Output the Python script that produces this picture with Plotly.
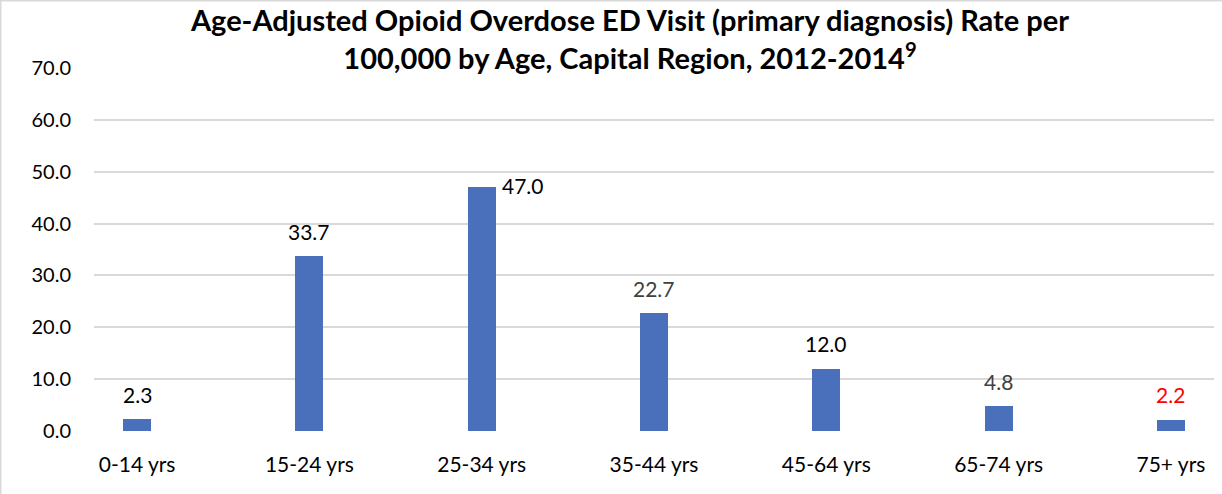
import plotly.graph_objects as go

categories = ["0-14 yrs", "15-24 yrs", "25-34 yrs", "35-44 yrs", "45-64 yrs", "65-74 yrs", "75+ yrs"]
rates = [2.3, 33.7, 47.0, 22.7, 12.0, 4.8, 2.2]
y_ticks = [0, 10, 20, 30, 40, 50, 60, 70]
title_line1 = "Age-Adjusted Opioid Overdose ED Visit (primary diagnosis) Rate per"
title_line2 = "100,000 by Age, Capital Region, 2012-2014<sup>9</sup>"

# label styling (not data)
label_colors = ["#000000", "#000000", "#000000", "#404040", "#000000", "#404040", "#FF0000"]
label_xshift = [0, 0, 41, 0, 0, 0, 0]
label_yshift = [25, 25, 2, 25, 25, 25, 25]

W, H = 1222, 494
ML, MR, MT, MB = 94, 8, 68, 63
FONT = "Lato"
pw = W - ML - MR
ph = H - MT - MB
TITLE_X = (630 - ML) / pw

fig = go.Figure()
fig.add_trace(go.Bar(
    x=list(range(len(categories))),
    y=rates,
    width=0.1625,
    marker=dict(color="#4A70BC", line=dict(width=0)),
    hoverinfo="x+y",
))

annotations = []
for i, (v, c, dx, dy) in enumerate(zip(rates, label_colors, label_xshift, label_yshift)):
    annotations.append(dict(
        x=i, y=v, xref="x", yref="y", text=f"{v:.1f}", showarrow=False,
        xshift=dx, yshift=dy, xanchor="center", yanchor="middle",
        font=dict(family=FONT, size=21, color=c),
    ))

fig.update_layout(
    width=W, height=H,
    margin=dict(l=ML, r=MR, t=MT, b=MB, autoexpand=False),
    paper_bgcolor="white", plot_bgcolor="white",
    showlegend=False,
    title=dict(
        text=f"<b>{title_line1}<br>{title_line2}</b>",
        x=TITLE_X, xref="paper", xanchor="center",
        y=1 - 31 / H, yref="container", yanchor="top",
        font=dict(family=FONT, size=29, color="#000000"),
    ),
    xaxis=dict(
        range=[-0.25, 6.25],
        tickmode="array", tickvals=list(range(len(categories))), ticktext=categories,
        showgrid=False, zeroline=False, showline=False, ticks="",
        tickfont=dict(family=FONT, size=21, color="#000000"),
        ticklabelstandoff=19,
    ),
    yaxis=dict(
        range=[0, 70],
        tickmode="array", tickvals=y_ticks, ticktext=[f"{t:.1f}" for t in y_ticks],
        showgrid=True, gridcolor="#D9D9D9", gridwidth=2,
        zeroline=False, showline=False, ticks="",
        tickfont=dict(family=FONT, size=20, color="#000000"),
        ticklabelstandoff=22,
    ),
    annotations=annotations,
    bargap=0,
    shapes=[
        dict(type="line", xref="paper", yref="paper",
             x0=-ML / pw, x1=-ML / pw, y0=-MB / ph, y1=1 + MT / ph,
             line=dict(color="#D9D9D9", width=3)),
        dict(type="line", xref="paper", yref="paper",
             x0=-ML / pw, x1=1 + MR / pw, y0=1 + MT / ph, y1=1 + MT / ph,
             line=dict(color="#D9D9D9", width=3)),
    ],
)

fig.write_html("out.html", config={"displayModeBar": False},
               post_script="document.body.style.margin='0';")
